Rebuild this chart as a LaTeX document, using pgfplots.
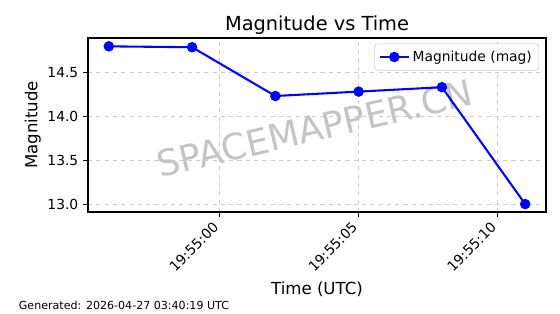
\documentclass[border=0pt]{standalone}
\usepackage{graphicx}
\usepackage{pgfplots}
\pgfplotsset{compat=1.18}
\usepackage{fontspec}
\setmainfont{DejaVu Sans}
\definecolor{gridc}{HTML}{CCCCCC}
\definecolor{wm}{HTML}{C4C4C4}
\begin{document}
\begin{tikzpicture}
\path[use as bounding box] (0,0) rectangle (5.6in,3.14in);
\begin{axis}[
  at={(0.88in,1.02in)}, anchor=south west,
  width=4.58in, height=1.74in, scale only axis,
  xmin=-4.75, xmax=11.75, ymin=12.91, ymax=14.89,
  xtick={0,5,10},
  xticklabels={\rotatebox{45}{19:55:00},\rotatebox{45}{19:55:05},\rotatebox{45}{19:55:10}},
  ytick={13.0,13.5,14.0,14.5},
  /pgf/number format/fixed,
  /pgf/number format/fixed zerofill,
  /pgf/number format/precision=1,
  /pgf/number format/assume math mode=true,
  xticklabel style={anchor=north east, inner sep=0pt, yshift=-3pt, font=\fontsize{10}{12}\selectfont},
  yticklabel style={font=\fontsize{10}{12}\selectfont},
  tick align=outside, major tick length=3.5pt,
  tick style={black, line width=0.8pt},
  xtick pos=bottom, ytick pos=left,
  axis line style={line width=0.8pt},
  grid=major,
  grid style={gridc, dashed, line width=0.6pt},
  title={Magnitude vs Time},
  title style={font=\fontsize{14}{16}\selectfont, yshift=-7pt},
  xlabel={Time (UTC)},
  ylabel={Magnitude},
  xlabel style={font=\fontsize{12}{14}\selectfont, yshift=-3pt},
  ylabel style={font=\fontsize{12}{14}\selectfont},
  ylabel shift=-2pt,
  legend style={at={(1,1)}, anchor=north east, xshift=-5pt, yshift=-4pt,
    draw=gridc, rounded corners=2pt, font=\fontsize{10}{12}\selectfont,
    inner sep=3pt, row sep=0pt},
  legend image code/.code={\draw[mark repeat=2,mark phase=2] plot coordinates {(0in,0in) (0.145in,0in) (0.29in,0in)};},
  legend cell align=left,
]
\node[font=\fontsize{26}{30}\selectfont, text=wm, rotate=13] at (axis cs:3.42,13.86) {SPACEMAPPER.CN};
\addplot[blue, line width=1.5pt, mark=*, mark size=3pt, mark options={solid}]
coordinates {(-4,14.795) (-1,14.785) (2,14.23) (5,14.28) (8,14.33) (11,13.0)};
\addlegendentry{Magnitude (mag)}
\end{axis}
\node[anchor=west, font=\fontsize{8}{10}\selectfont] at (0.14in,0.09in) {Generated: 2026-04-27 03:40:19 UTC};
\end{tikzpicture}
\end{document}
